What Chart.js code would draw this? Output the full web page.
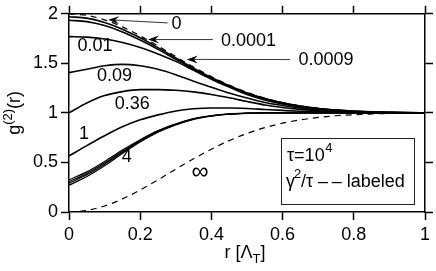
<!DOCTYPE html>
<html>
<head>
<meta charset="utf-8">
<script src="https://cdn.jsdelivr.net/npm/chart.js@4.4.1/dist/chart.umd.min.js"></script>
<style>
  body { margin: 0; background: #fff; }
  #wrap { width: 436px; height: 271px; }
</style>
</head>
<body>
<div id="wrap"><canvas id="plot"></canvas></div>
<script>
// r in units of the thermal wavelength
var rValues = [0, 0.05, 0.1, 0.15, 0.2, 0.25, 0.3, 0.35, 0.4, 0.45, 0.5,
               0.55, 0.6, 0.65, 0.7, 0.75, 0.8, 0.85, 0.9, 0.95, 1];

// g2(r), one array per gamma^2/tau value
var gZero  = [2, 1.984, 1.939, 1.868, 1.778, 1.675, 1.568, 1.463, 1.366, 1.280, 1.208,
              1.149, 1.104, 1.070, 1.046, 1.029, 1.018, 1.011, 1.006, 1.003, 1.002];
var g0001  = [1.97, 1.956, 1.913, 1.845, 1.758, 1.659, 1.555, 1.452, 1.357, 1.273, 1.202,
              1.145, 1.101, 1.068, 1.045, 1.028, 1.017, 1.010, 1.006, 1.003, 1.002];
var g0009  = [1.935, 1.921, 1.881, 1.817, 1.735, 1.641, 1.541, 1.442, 1.350, 1.268, 1.199,
              1.143, 1.100, 1.067, 1.044, 1.028, 1.017, 1.010, 1.006, 1.003, 1.002];
var g001   = [1.77, 1.765, 1.745, 1.71, 1.66, 1.595, 1.52, 1.43, 1.34, 1.26, 1.185,
              1.13, 1.09, 1.06, 1.04, 1.025, 1.015, 1.008, 1.004, 1.002, 1.001];
var g009   = [1.406, 1.44, 1.475, 1.49, 1.475, 1.44, 1.385, 1.32, 1.26, 1.20, 1.15,
              1.105, 1.075, 1.05, 1.032, 1.02, 1.012, 1.007, 1.004, 1.002, 1.001];
var g036   = [1.0, 1.10, 1.175, 1.215, 1.235, 1.235, 1.228, 1.212, 1.185, 1.152, 1.115,
              1.08, 1.055, 1.036, 1.022, 1.013, 1.008, 1.004, 1.002, 1.001, 1.0];
var g1     = [0.566, 0.67, 0.77, 0.86, 0.93, 0.98, 1.02, 1.042, 1.05, 1.05, 1.045,
              1.035, 1.025, 1.016, 1.01, 1.006, 1.003, 1.002, 1.001, 1.0, 1.0];
var g4a    = [0.325, 0.405, 0.51, 0.625, 0.73, 0.822, 0.89, 0.942, 0.972, 0.99, 0.998,
              1.0, 1.001, 1.001, 1.0, 1.0, 1.0, 1.0, 1.0, 1.0, 1.0];
var g4b    = [0.305, 0.39, 0.495, 0.613, 0.722, 0.816, 0.886, 0.94, 0.97, 0.989, 0.997,
              1.0, 1.001, 1.001, 1.0, 1.0, 1.0, 1.0, 1.0, 1.0, 1.0];
var g4c    = [0.29, 0.375, 0.482, 0.602, 0.715, 0.811, 0.883, 0.938, 0.969, 0.988, 0.997,
              0.999, 1.001, 1.0, 1.0, 1.0, 1.0, 1.0, 1.0, 1.0, 1.0];
var g4d    = [0.27, 0.358, 0.467, 0.59, 0.706, 0.805, 0.879, 0.935, 0.967, 0.987, 0.996,
              0.999, 1.0, 1.0, 1.0, 1.0, 1.0, 1.0, 1.0, 1.0, 1.0];
var gInf   = [0, 0.016, 0.061, 0.132, 0.222, 0.325, 0.432, 0.537, 0.634, 0.720, 0.792,
              0.851, 0.896, 0.930, 0.954, 0.971, 0.982, 0.989, 0.994, 0.997, 0.998];

var xTicks = [0, 0.2, 0.4, 0.6, 0.8, 1];
var yTicks = [0, 0.5, 1, 1.5, 2];

// curve labels (data units)
var curveLabels = [
  { text: '0.01', r: 0.073, g: 1.673 },
  { text: '0.09', r: 0.128, g: 1.373 },
  { text: '0.36', r: 0.178, g: 1.09 },
  { text: '1',    r: 0.042, g: 0.79 },
  { text: '4',    r: 0.162, g: 0.556 },
  { text: '0',    r: 0.302, g: 1.893 },
  { text: '0.0001', r: 0.504, g: 1.723 },
  { text: '0.0009', r: 0.722, g: 1.53 }
];
// leader arrows: tail near the label, tip on the curve
var arrows = [
  { from: [0.277, 1.908], to: [0.110, 1.94] },
  { from: [0.404, 1.74],  to: [0.222, 1.74] },
  { from: [0.621, 1.538], to: [0.331, 1.54] }
];

var FONT = '"Liberation Sans", Arial, Helvetica, sans-serif';

function line(data, dashed, width) {
  return {
    data: data,
    borderColor: '#000',
    borderWidth: width || 1.6,
    borderDash: dashed ? [6, 5] : [],
    pointRadius: 0,
    fill: false,
    cubicInterpolationMode: 'monotone'
  };
}

var overlay = {
  id: 'overlay',
  afterDraw: function(chart) {
    var ctx = chart.ctx;
    var xs = chart.scales.x, ys = chart.scales.y;
    var area = chart.chartArea;
    ctx.save();
    ctx.fillStyle = '#000';
    ctx.textBaseline = 'middle';

    // curve labels
    ctx.textAlign = 'center';
    ctx.font = '18px ' + FONT;
    curveLabels.forEach(function(l) {
      ctx.fillText(l.text, xs.getPixelForValue(l.r), ys.getPixelForValue(l.g));
    });
    ctx.font = '24px ' + FONT;
    ctx.fillText('\u221E', xs.getPixelForValue(0.368), ys.getPixelForValue(0.40));

    // arrows
    arrows.forEach(function(a) {
      var x0 = xs.getPixelForValue(a.from[0]), y0 = ys.getPixelForValue(a.from[1]);
      var x1 = xs.getPixelForValue(a.to[0]), y1 = ys.getPixelForValue(a.to[1]);
      var len = Math.hypot(x1 - x0, y1 - y0);
      var dx = (x1 - x0) / len, dy = (y1 - y0) / len;
      var nx = -dy, ny = dx;
      ctx.strokeStyle = '#333';
      ctx.lineWidth = 1;
      ctx.beginPath();
      ctx.moveTo(x0, y0);
      ctx.lineTo(x1 - dx * 7, y1 - dy * 7);
      ctx.stroke();
      ctx.beginPath();
      ctx.moveTo(x1, y1);
      ctx.lineTo(x1 - dx * 11 + nx * 4, y1 - dy * 11 + ny * 4);
      ctx.lineTo(x1 - dx * 7, y1 - dy * 7);
      ctx.lineTo(x1 - dx * 11 - nx * 4, y1 - dy * 11 - ny * 4);
      ctx.closePath();
      ctx.fill();
    });

    // legend box
    var bx = area.right - 144, by = area.bottom - 74;
    ctx.strokeStyle = '#222';
    ctx.lineWidth = 1;
    ctx.strokeRect(bx + 0.5, by + 0.5, 133, 66);
    ctx.textAlign = 'left';
    ctx.font = '18px ' + FONT;
    ctx.fillText('\u03C4=10', bx + 6, by + 18);
    var w = ctx.measureText('\u03C4=10').width;
    ctx.font = '13px ' + FONT;
    ctx.fillText('4', bx + 6 + w + 0.5, by + 10);
    ctx.font = '18px ' + FONT;
    ctx.fillText('\u03B3', bx + 5, by + 44);
    w = ctx.measureText('\u03B3').width;
    ctx.font = '13px ' + FONT;
    ctx.fillText('2', bx + 5 + w - 1, by + 36);
    ctx.font = '18px ' + FONT;
    ctx.fillText('/\u03C4 \u2013\u2009\u2013 labeled', bx + 5 + w + 6, by + 44);

    // x axis title: r [Λ_T]
    var cx = (area.left + area.right) / 2 - 2;
    var ty = area.bottom + 41;
    ctx.font = '18px ' + FONT;
    var t1 = 'r [\u039B', t3 = ']';
    var w1 = ctx.measureText(t1).width, w3 = ctx.measureText(t3).width;
    ctx.font = '13px ' + FONT;
    var w2 = ctx.measureText('T').width;
    var sx = cx - (w1 + w2 + w3) / 2;
    ctx.font = '18px ' + FONT;
    ctx.fillText(t1, sx, ty);
    ctx.font = '13px ' + FONT;
    ctx.fillText('T', sx + w1, ty + 6);
    ctx.font = '18px ' + FONT;
    ctx.fillText(t3, sx + w1 + w2, ty);

    // y axis title: g^(2)(r)
    ctx.translate(15, (area.top + area.bottom) / 2);
    ctx.rotate(-Math.PI / 2);
    ctx.font = '18px ' + FONT;
    var a1 = ctx.measureText('g').width, a3 = ctx.measureText('(r)').width;
    ctx.font = '13px ' + FONT;
    var a2 = ctx.measureText('(2)').width;
    var sy = -(a1 + a2 + a3) / 2;
    ctx.font = '18px ' + FONT;
    ctx.fillText('g', sy, 0);
    ctx.font = '13px ' + FONT;
    ctx.fillText('(2)', sy + a1, -7);
    ctx.font = '18px ' + FONT;
    ctx.fillText('(r)', sy + a1 + a2, 0);
    ctx.restore();
  }
};

function axis(position, showLabels, ticksList, size) {
  var horizontal = position === 'top' || position === 'bottom';
  return {
    type: 'linear',
    position: position,
    min: ticksList[0],
    max: ticksList[ticksList.length - 1],
    afterBuildTicks: function(s) { s.ticks = ticksList.map(function(v) { return { value: v }; }); },
    afterFit: function(s) { if (horizontal) s.height = size; else s.width = size; },
    ticks: {
      display: showLabels,
      color: '#000',
      font: { size: 18, family: FONT },
      padding: horizontal ? 4 : 3,
      maxRotation: 0,
      callback: function(v) { return String(v); }
    },
    grid: {
      drawOnChartArea: false,
      drawTicks: true,
      tickLength: 8,
      tickColor: '#000',
      tickWidth: 1.5
    },
    border: { display: true, color: '#000', width: 1.5 }
  };
}

new Chart(document.getElementById('plot'), {
  type: 'line',
  data: {
    labels: rValues,
    datasets: [
      line(gZero, true, 1.2),
      line(g0001),
      line(g0009),
      line(g001),
      line(g009),
      line(g036),
      line(g1),
      line(g4a, false, 1.2),
      line(g4b, false, 1.2),
      line(g4c, false, 1.2),
      line(g4d, false, 1.2),
      line(gInf, true, 1.2)
    ].map(function(d) {
      d.data = d.data.map(function(v, i) { return { x: rValues[i], y: v }; });
      return d;
    })
  },
  options: {
    responsive: true,
    maintainAspectRatio: false,
    animation: false,
    layout: { padding: 0 },
    plugins: { legend: { display: false }, tooltip: { enabled: false } },
    scales: {
      x: axis('bottom', true, xTicks, 59),
      x2: axis('top', false, xTicks, 12),
      y: axis('left', true, yTicks, 69),
      y2: axis('right', false, yTicks, 11)
    }
  },
  plugins: [overlay]
});
</script>
</body>
</html>
